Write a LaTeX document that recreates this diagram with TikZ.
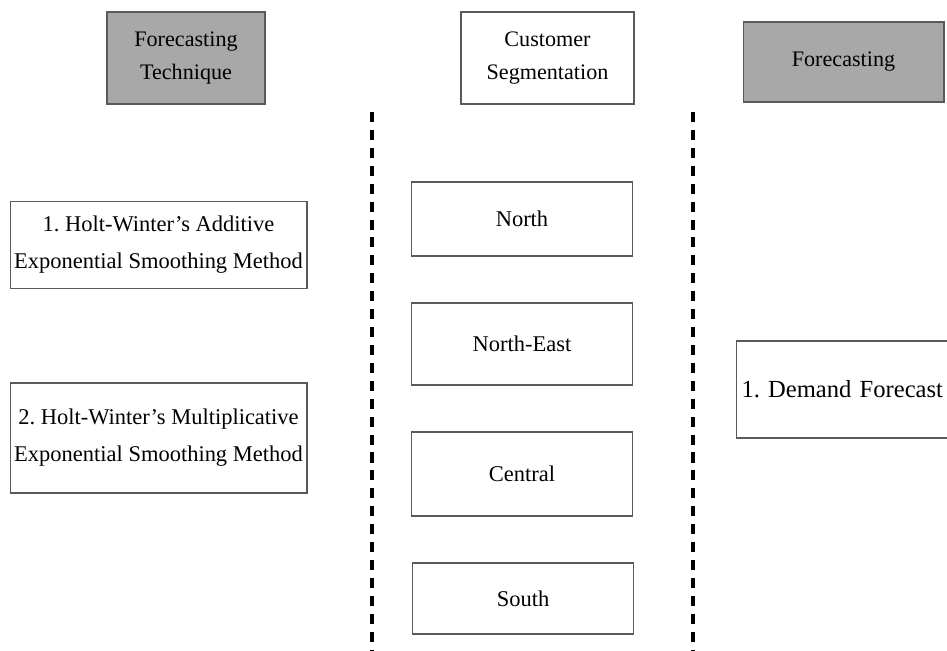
\documentclass[tikz,border=0pt]{standalone}
\usepackage{fontspec}
\setmainfont{Liberation Serif}
\usepackage{xcolor}
\definecolor{headgray}{RGB}{168,168,168}
\definecolor{edgegray}{RGB}{90,90,90}
\frenchspacing

\begin{document}
\begin{tikzpicture}[x=0.02cm, y=-0.02cm, nodes={draw=edgegray, line width=0.6pt, inner sep=0pt},
	font=\fontsize{12.8}{15}\selectfont,
	head/.style={fill=headgray, align=center, font=\fontsize{12.6}{18.5}\selectfont},
	method/.style={align=center, minimum width=5.94cm, font=\fontsize{12.8}{21}\selectfont},
	region/.style={minimum width=4.42cm},
	divider/.style={line width=2.8pt, dash pattern=on 5.7pt off 4.5pt}]
	\useasboundingbox (0,0) rectangle (947,651);
	% headings
	\node[head, minimum width=3.16cm, minimum height=1.84cm] (tech) at (186,58) {Forecasting\\Technique};
	\node[head, fill=none, minimum width=3.46cm, minimum height=1.84cm] (seg) at (547.5,58) {Customer\\Segmentation};
	\node[head, minimum width=4.02cm, minimum height=1.6cm] (fc) at (843.5,62) {Forecasting};
	
	% techniques
	\node[method, minimum height=1.74cm] (hwa) at (158.5,245) {1. Holt-Winter's Additive\\Exponential Smoothing Method};
	\node[method, minimum height=2.2cm] (hwm) at (158.5,438) {2. Holt-Winter's Multiplicative\\Exponential Smoothing Method};
	
	% regions
	\node[region, minimum height=1.48cm] (north) at (522,219) {North};
	\node[region, minimum height=1.64cm] (ne) at (522,344) {North-East};
	\node[region, minimum height=1.68cm] (central) at (522,474) {Central};
	\node[region, minimum height=1.42cm] (south) at (523,598.5) {South};
	
	% forecast
	\node[text width=4.3cm, minimum height=1.94cm, align=left, inner xsep=3pt, font=\fontsize{14}{16}\selectfont] (demand) at (849,389.5) {1. Demand Forecast};
	
	% dividers
	\coordinate (l1) at (372,112);
	\coordinate (l2) at (372,651);
	\coordinate (r1) at (693,112);
	\coordinate (r2) at (693,651);
	\draw[divider] (l1) -- (l2);
	\draw[divider] (r1) -- (r2);
\end{tikzpicture}
\end{document}
